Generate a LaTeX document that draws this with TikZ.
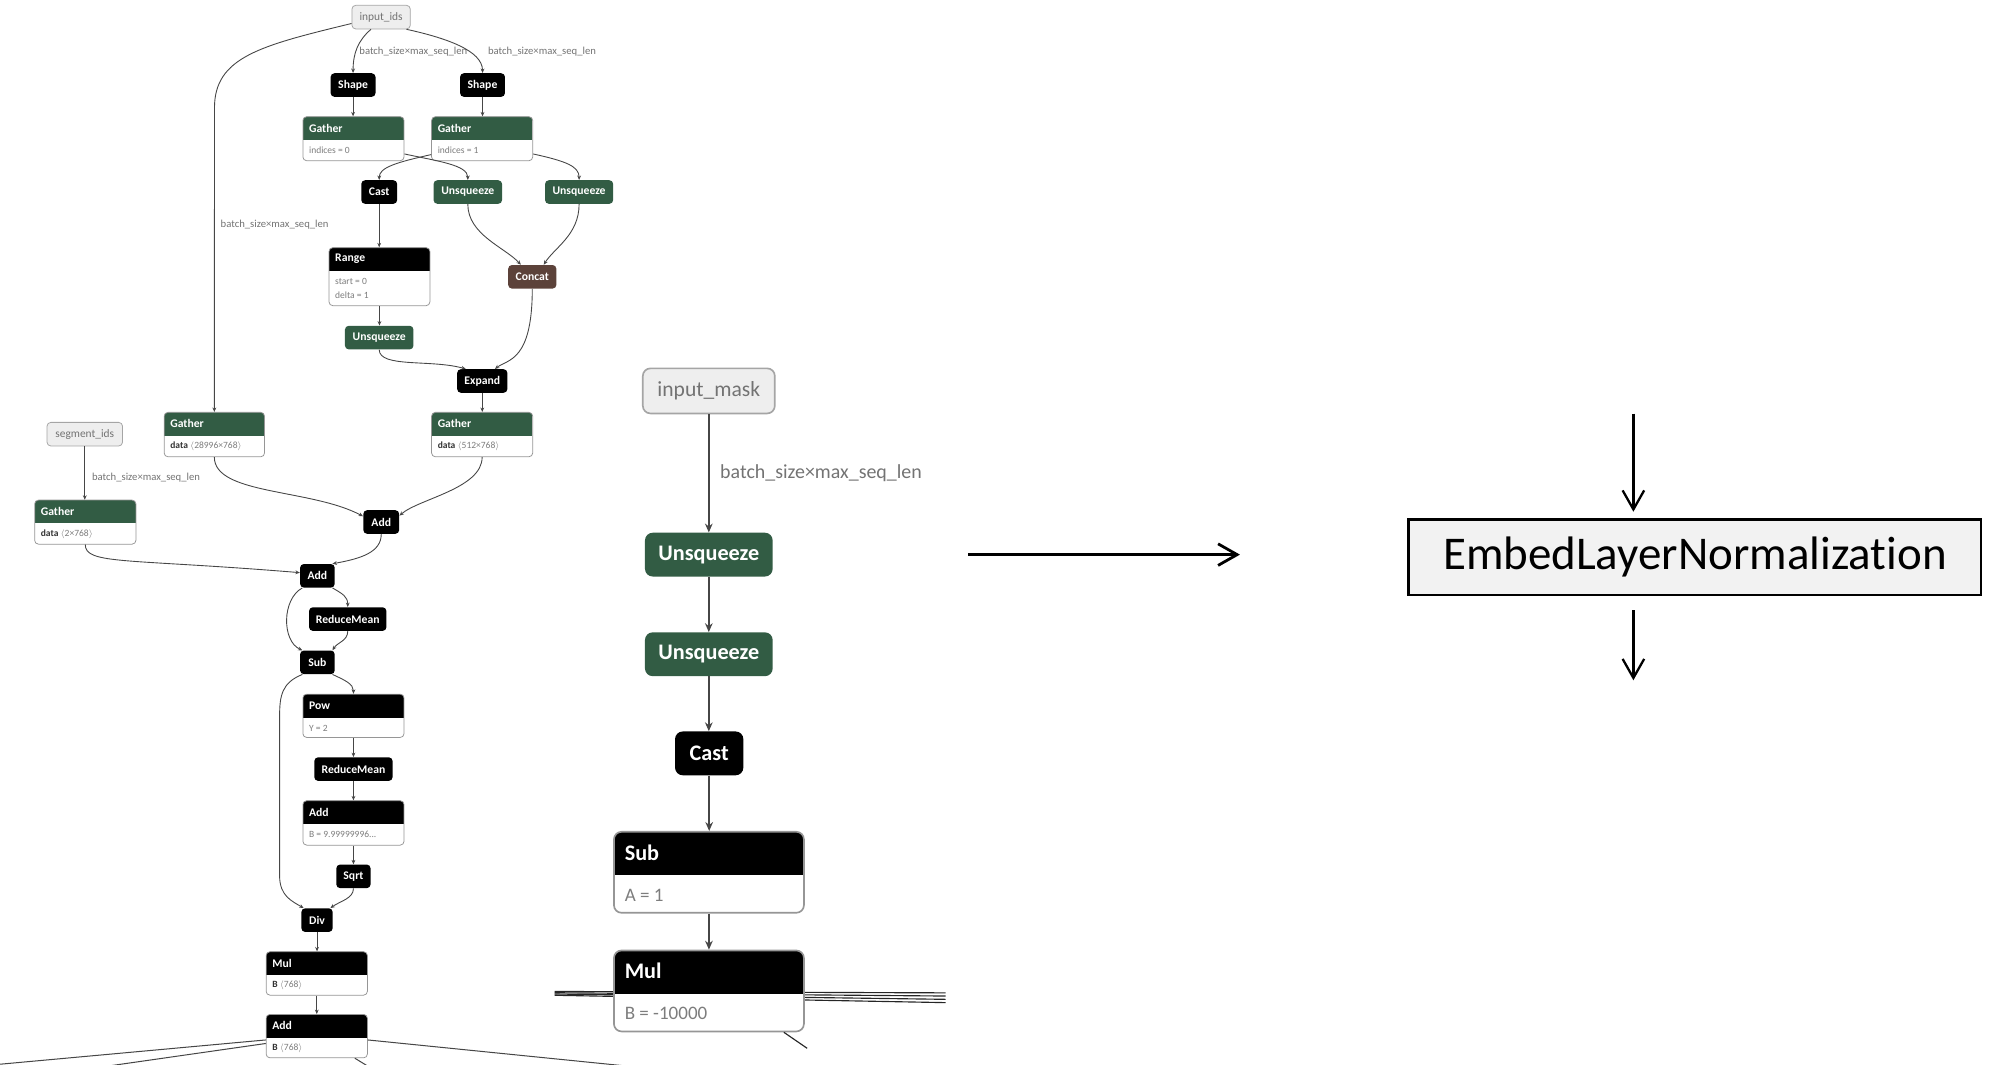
\documentclass[tikz,border=0pt]{standalone}
\usepackage{fontspec}
\setmainfont{Carlito}[Ligatures={NoCommon,NoContextual}]
\usetikzlibrary{arrows.meta}

\definecolor{ngreen}{RGB}{50,92,68}
\definecolor{nbrown}{RGB}{92,66,58}
\definecolor{edgegray}{RGB}{70,70,70}
\definecolor{cardline}{RGB}{150,150,150}
\definecolor{inputfill}{RGB}{238,238,238}
\definecolor{inputline}{RGB}{165,165,165}
\definecolor{labelgray}{RGB}{115,115,115}
\definecolor{attrgray}{RGB}{125,125,125}
\definecolor{boxfill}{RGB}{242,242,242}

\tikzset{
  % small graph (left)
  sedge/.style={draw=edgegray, line width=0.7pt, -{Stealth[length=3.5pt,width=3pt]}},
  sline/.style={draw=edgegray, line width=0.8pt},
  spill/.style={fill=#1, draw=none, text=white, rounded corners=3pt, inner sep=0pt,
    minimum height=18.6pt, font=\fontsize{9.2}{11}\selectfont\bfseries},
  sinput/.style={fill=inputfill, draw=inputline, line width=0.6pt, text=labelgray,
    rounded corners=3pt, inner sep=0pt, minimum height=18.6pt, font=\fontsize{9}{11}\selectfont},
  scard/.style={draw=cardline, line width=0.6pt, fill=white, rounded corners=3pt, inner sep=0pt,
    path picture={\fill[#1, sharp corners] ([yshift=1pt]path picture bounding box.north west)
      rectangle ([yshift=-18.4pt]path picture bounding box.north east);}},
  stitle/.style={anchor=west, inner sep=0pt, text=white, font=\fontsize{9.2}{11}\selectfont\bfseries},
  sattr/.style={anchor=west, inner sep=0pt, text=attrgray, font=\fontsize{7.5}{9}\selectfont},
  slabel/.style={anchor=west, inner sep=0pt, text=labelgray, font=\fontsize{8.4}{10}\selectfont},
  % large graph (middle)
  bedge/.style={draw=edgegray, line width=1.3pt, -{Stealth[length=7pt,width=6pt]}},
  bline/.style={draw=black!85, line width=0.9pt},
  bpill/.style={fill=#1, draw=none, text=white, rounded corners=6pt, inner sep=0pt,
    minimum height=34.5pt, font=\fontsize{17.5}{21}\selectfont\bfseries},
  binput/.style={fill=inputfill, draw=inputline, line width=1.3pt, text=labelgray,
    rounded corners=6pt, inner sep=0pt, font=\fontsize{17}{20}\selectfont},
  bcard/.style={draw=cardline, line width=1.3pt, fill=white, rounded corners=6pt, inner sep=0pt,
    path picture={\fill[black, sharp corners] ([yshift=1pt]path picture bounding box.north west)
      rectangle ([yshift=-34.1pt]path picture bounding box.north east);}},
  btitle/.style={anchor=west, inner sep=0pt, text=white, font=\fontsize{17.5}{21}\selectfont\bfseries},
  battr/.style={anchor=west, inner sep=0pt, text=attrgray, font=\fontsize{15}{18}\selectfont},
  blabel/.style={anchor=west, inner sep=0pt, text=labelgray, font=\fontsize{15.7}{18}\selectfont},
  % fused operator (right)
  fusedbox/.style={draw=black, line width=2.1pt, fill=boxfill, inner sep=0pt,
    minimum width=451pt, minimum height=59.5pt, font=\fontsize{37}{44}\selectfont},
  bigarrow/.style={draw=black, line width=#1, -{Straight Barb[length=15pt,width=17pt]}},
}

\newcommand{\tdims}[1]{$\langle$#1$\rangle$}
\newcommand{\kw}[1]{\textcolor{black!80}{\textbf{#1}}}

% operator card with header and one attribute line
\newcommand{\smallcard}[7]{%
  \node[scard=#5, minimum width=#3pt, minimum height=#4pt] (#1) at (#2) {};
  \node[stitle] (#1-t) at ([xshift=5pt,yshift=-9.2pt]#1.north west) {#6};
  \node[sattr] (#1-a) at ([xshift=5pt,yshift=-27pt]#1.north west) {#7};
}
\newcommand{\bigcard}[4]{%
  \node[bcard, minimum width=149.7pt, minimum height=63.8pt] (#1) at (#2) {};
  \node[btitle] (#1-t) at ([xshift=9pt,yshift=-17pt]#1.north west) {#3};
  \node[battr] (#1-a) at ([xshift=9pt,yshift=-50.5pt]#1.north west) {#4};
}

\begin{document}
\begin{tikzpicture}[x=1pt, y=-1pt]
\useasboundingbox (0,0) rectangle (1568,839);

% ---------------- embedding + layer norm subgraph ----------------
\node[sinput, minimum width=46pt] (inids) at (300.3,13.5) {input\_ids};
\node[spill=black, minimum width=35.4pt] (shapeL) at (278.2,67) {Shape};
\node[spill=black, minimum width=35.4pt] (shapeR) at (380.2,67) {Shape};
\smallcard{gL}{278.5,109.3}{79.7}{34.7}{ngreen}{Gather}{indices = 0}
\smallcard{gR}{379.9,109.3}{79.7}{34.7}{ngreen}{Gather}{indices = 1}
\node[spill=black, minimum width=28.3pt] (castL) at (298.8,151.3) {Cast};
\node[spill=ngreen, minimum width=54pt] (unsqM) at (368.6,151.3) {Unsqueeze};
\node[spill=ngreen, minimum width=53.7pt] (unsqR) at (456.3,151.3) {Unsqueeze};
\smallcard{range}{299,218}{79.5}{45.7}{black}{Range}{start = 0}
\node[sattr] (range-b) at ([xshift=5pt,yshift=-38pt]range.north west) {delta = 1};
\node[spill=nbrown, minimum width=38pt] (concat) at (419.4,218.1) {Concat};
\node[spill=ngreen, minimum width=54pt] (unsqB) at (298.8,266) {Unsqueeze};
\node[spill=black, minimum width=39.6pt] (expand) at (380,300.2) {Expand};
\smallcard{gbig}{168.9,342.4}{79.1}{35}{ngreen}{Gather}{\kw{data} \tdims{28996×768}}
\smallcard{gpos}{379.9,342.4}{79.7}{35}{ngreen}{Gather}{\kw{data} \tdims{512×768}}
\node[sinput, minimum width=59.5pt] (segids) at (66.8,342.1) {segment\_ids};
\smallcard{gseg}{67.2,411.4}{79.8}{34.7}{ngreen}{Gather}{\kw{data} \tdims{2×768}}
\node[spill=black, minimum width=28.3pt] (addT) at (300.4,411.3) {Add};
\node[spill=black, minimum width=27.3pt] (add2) at (250.1,453.7) {Add};
\node[spill=black, minimum width=61pt] (rm1) at (274,487.8) {ReduceMean};
\node[spill=black, minimum width=27.3pt] (sub) at (250.1,521.9) {Sub};
\smallcard{pow}{278.5,564}{79.7}{34.1}{black}{Pow}{Y = 2}
\node[spill=black, minimum width=61.7pt] (rm2) at (278.5,606) {ReduceMean};
\smallcard{add3}{278.5,648.4}{79.7}{35}{black}{Add}{B = 9.99999996...}
\node[spill=black, minimum width=27pt] (sqrt) at (278.5,690.5) {Sqrt};
\node[spill=black, minimum width=24.7pt] (div) at (249.8,725) {Div};
\smallcard{mul}{249.6,767}{79.8}{34.2}{black}{Mul}{\kw{B} \tdims{768}}
\smallcard{add4}{249.6,816.4}{79.8}{34.2}{black}{Add}{\kw{B} \tdims{768}}

\node[slabel] (lbl1) at (283,40.7) {batch\_size×max\_seq\_len};
\node[slabel] (lbl2) at (384.4,40.7) {batch\_size×max\_seq\_len};
\node[slabel] (lbl3) at (173.7,177.3) {batch\_size×max\_seq\_len};
\node[slabel] (lbl4) at (72.4,376.4) {batch\_size×max\_seq\_len};

\draw[sedge] ([yshift=-5pt]inids.west) .. controls (205,36) and (169,45) .. (169,85) -- (gbig.north);
\draw[sedge] ([xshift=-8pt]inids.south) .. controls (282,32) and (278.2,42) .. (shapeL.north);
\draw[sedge] ([xshift=20pt]inids.south) .. controls (352,30) and (380.2,40) .. (shapeR.north);
\draw[sedge] (shapeL.south) -- (shapeL.south |- gL.north);
\draw[sedge] (shapeR.south) -- (shapeR.south |- gR.north);
\draw[sedge] ([yshift=-12pt]gL.east) .. controls (345,127) and (368.6,130) .. (unsqM.north);
\draw[sedge] ([yshift=-12.5pt]gR.west) .. controls (312,128) and (298.8,132) .. (castL.north);
\draw[sedge] ([yshift=-12pt]gR.east) .. controls (446,127) and (456.3,131) .. (unsqR.north);
\draw[sedge] (castL.south) -- (castL.south |- range.north);
\draw[sedge] (range.south) -- (range.south |- unsqB.north);
\draw[sedge] (unsqM.south) .. controls (368.6,185) and (398,195) .. ([xshift=-9pt]concat.north);
\draw[sedge] (unsqR.south) .. controls (456.3,185) and (437,195) .. ([xshift=9pt]concat.north);
\draw[sedge] (unsqB.south) .. controls (298.8,290) and (340,283) .. ([xshift=-13pt]expand.north);
\draw[sedge] (concat.south) .. controls (419.4,285) and (400,283) .. ([xshift=10pt]expand.north);
\draw[sedge] (expand.south) -- (expand.south |- gpos.north);
\draw[sedge] (gbig.south) .. controls (168.9,390) and (245,385) .. ([yshift=4.5pt]addT.west);
\draw[sedge] (gpos.south) .. controls (379.9,385) and (330,393) .. ([yshift=5pt]addT.east);
\draw[sedge] (segids.south) -- (segids.south |- gseg.north);
\draw[sedge] (gseg.south) .. controls (67,445) and (100,440) .. ([yshift=2.5pt]add2.west);
\draw[sedge] (addT.south) .. controls (300.4,435) and (285,440) .. ([xshift=-2pt]add2.north east);
\draw[sedge] ([xshift=-2pt]add2.south east) .. controls (270,468) and (274,470) .. (rm1.north);
\draw[sedge] ([xshift=2pt]add2.south west) .. controls (222,472) and (222,505) .. ([xshift=2pt]sub.north west);
\draw[sedge] (rm1.south) .. controls (274,505) and (266,506) .. ([xshift=-2pt]sub.north east);
\draw[sedge] ([xshift=-2pt]sub.south east) .. controls (272,536) and (278.5,539) .. (pow.north);
\draw[sedge] ([xshift=2pt]sub.south west) .. controls (222,538) and (220.3,548) .. (220.3,565)
  -- (220.3,690) .. controls (220.3,706) and (230,710) .. ([xshift=2pt]div.north west);
\draw[sedge] (pow.south) -- (pow.south |- rm2.north);
\draw[sedge] (rm2.south) -- (rm2.south |- add3.north);
\draw[sedge] (add3.south) -- (add3.south |- sqrt.north);
\draw[sedge] (sqrt.south) .. controls (278.5,708) and (268,710) .. ([xshift=-2pt]div.north east);
\draw[sedge] (div.south) -- (div.south |- mul.north);
\draw[sedge] (mul.south) -- (mul.south |- add4.north);

% outputs of the last Add leave the view
\coordinate (out1) at (-38,842);
\coordinate (out2) at (71,842);
\coordinate (out3) at (514,842);
\coordinate (out4) at (293,842);
\draw[sline] ([yshift=-3pt]add4.west) -- (out1);
\draw[sline] ([yshift=-5.8pt]add4.west) -- (out2);
\draw[sline] ([yshift=-3pt]add4.east) -- (out3);
\draw[sline] ([xshift=30pt]add4.south) -- (out4);

% ---------------- attention mask subgraph ----------------
\coordinate (wl1) at (437,781.2);  \coordinate (wr1) at (745,782.3);
\coordinate (wl2) at (437,782.2);  \coordinate (wr2) at (745,784.8);
\coordinate (wl3) at (437,783.2);  \coordinate (wr3) at (745,787.4);
\coordinate (wl4) at (437,784.2);  \coordinate (wr4) at (745,790);
\foreach \i in {1,...,4} { \draw[bline] (wl\i) -- (wr\i); }

\node[binput, minimum width=104pt, minimum height=35.5pt] (imask) at (558.5,308) {input\_mask};
\node[bpill=ngreen, minimum width=100.6pt] (mu1) at (558.5,437) {Unsqueeze};
\node[bpill=ngreen, minimum width=100.6pt] (mu2) at (558.5,515.5) {Unsqueeze};
\node[bpill=black, minimum width=53.8pt] (mcast) at (558.8,593.6) {Cast};
\bigcard{msub}{558.6,687.3}{Sub}{A = 1}
\bigcard{mmul}{558.6,780.8}{Mul}{B = -10000}
\node[blabel] (lbl5) at (567.3,373) {batch\_size×max\_seq\_len};

\draw[bedge] (imask.south) -- (imask.south |- mu1.north);
\draw[bedge] (mu1.south) -- (mu1.south |- mu2.north);
\draw[bedge] (mu2.south) -- (mu2.south |- mcast.north);
\draw[bedge] (mcast.south) -- (mcast.south |- msub.north);
\draw[bedge] (msub.south) -- (msub.south |- mmul.north);
\coordinate (mout) at (636,826);
\draw[bline] ([xshift=59pt]mmul.south) -- (mout);

% ---------------- fused replacement ----------------
\coordinate (fuseFrom) at (763,437);
\coordinate (fuseTo) at (977,437);
\draw[bigarrow=2.2pt] (fuseFrom) -- (fuseTo);

% the kern keeps "t" and "i" as separate glyphs
\node[fusedbox] (eln) at (1335.5,439) {EmbedLayerNormalizat\kern0pt ion};
\coordinate (elnIn) at (1287,326);
\coordinate (elnOut) at (1287,536);
\draw[bigarrow=1.8pt] (elnIn) -- ([xshift=-48.5pt,yshift=5pt]eln.north);
\draw[bigarrow=1.8pt] ([xshift=-48.5pt,yshift=-11pt]eln.south) -- (elnOut);
\end{tikzpicture}
\end{document}
